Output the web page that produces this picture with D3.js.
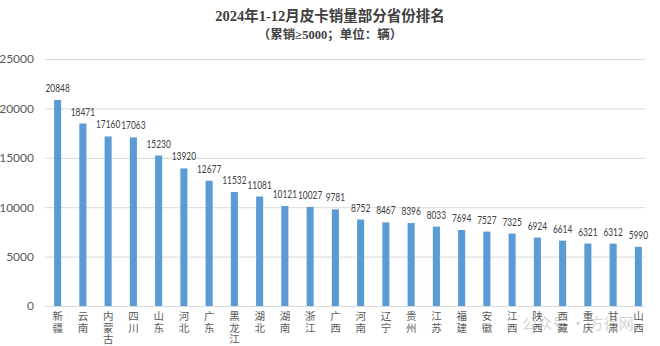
<!DOCTYPE html>
<html>
<head>
<meta charset="utf-8">
<script src="https://cdn.jsdelivr.net/npm/d3@7/dist/d3.min.js"></script>
<style>
  html, body { margin: 0; padding: 0; background: #fff; }
  svg { display: block; }
</style>
</head>
<body>
<svg id="chart" width="660" height="346"></svg>
<script>
// Pickup truck sales by province, Jan–Dec 2024 (cumulative ≥ 5000 units)
const provinces = ["新疆","云南","内蒙古","四川","山东","河北","广东","黑龙江","湖北","湖南","浙江","广西",
                   "河南","辽宁","贵州","江苏","福建","安徽","江西","陕西","西藏","重庆","甘肃","山西"];
const sales = [20848,18471,17160,17063,15230,13920,12677,11532,11081,10121,10027,9781,
               8752,8467,8396,8033,7694,7527,7325,6924,6614,6321,6312,5990];
const yTicks = [0,5000,10000,15000,20000,25000];
const titleText = "2024年1-12月皮卡销量部分省份排名";
const subtitleText = "（累销≥5000；单位：辆）";

const svg = d3.select("#chart");
const W = 660, H = 346;
const plot = { left: 45, right: 651, top: 59, bottom: 306 };

const x = d3.scaleBand().domain(provinces).range([plot.left, plot.right]).paddingInner(0.72).paddingOuter(0.36);
const y = d3.scaleLinear().domain([0, 25000]).range([plot.bottom, plot.top]);

const serif = "'Liberation Serif', 'DejaVu Serif', 'Noto Sans CJK SC', serif";
const numFont = "'Lato', 'Open Sans', sans-serif";

// titles
svg.append("text").attr("x", W / 2).attr("y", 21).attr("text-anchor", "middle")
  .attr("font-family", serif).attr("font-size", 14.5).attr("font-weight", "bold").attr("fill", "#404040")
  .text(titleText);
svg.append("text").attr("x", W / 2).attr("y", 39).attr("text-anchor", "middle")
  .attr("font-family", serif).attr("font-size", 12.5).attr("font-weight", "bold").attr("fill", "#404040")
  .text(subtitleText);

// gridlines + y axis labels
const yAxis = d3.axisLeft(y).tickValues(yTicks).tickFormat(d3.format("d"))
  .tickSize(-(plot.right - plot.left - 6)).tickPadding(11);
const gy = svg.append("g").attr("transform", `translate(${plot.left},0)`).call(yAxis);
gy.select(".domain").remove();
gy.selectAll(".tick line").attr("stroke", "#d9d9d9").attr("stroke-width", 1);
gy.selectAll(".tick text").attr("font-family", numFont).attr("font-size", 12).attr("fill", "#595959");

// bars
svg.append("g").selectAll("rect").data(sales).join("rect")
  .attr("x", (d, i) => x(provinces[i]))
  .attr("y", d => y(d))
  .attr("width", x.bandwidth())
  .attr("height", d => y(0) - y(d))
  .attr("fill", "#5b9bd5");

// value labels, condensed so neighbours do not collide
svg.append("g").selectAll("text").data(sales).join("text")
  .attr("x", (d, i) => x(provinces[i]) + x.bandwidth() / 2)
  .attr("y", d => y(d) - 8)
  .attr("text-anchor", "middle")
  .attr("font-family", numFont).attr("font-size", 10.5).attr("fill", "#404040")
  .attr("textLength", d => String(d).length * 4.85)
  .attr("lengthAdjust", "spacingAndGlyphs")
  .text(d => d);

// category axis: vertically stacked characters
const gx = svg.append("g");
gx.append("line").attr("x1", plot.left).attr("x2", plot.right - 6)
  .attr("y1", y(0) + 0.5).attr("y2", y(0) + 0.5).attr("stroke", "#d9d9d9");
provinces.forEach(p => {
  const t = gx.append("text")
    .attr("x", x(p) + x.bandwidth() / 2)
    .attr("text-anchor", "middle")
    .attr("font-family", "'Noto Sans CJK SC', sans-serif").attr("font-size", 10.5).attr("fill", "#595959");
  Array.from(p).forEach((ch, k) => {
    t.append("tspan").attr("x", x(p) + x.bandwidth() / 2).attr("y", 320 + k * 11.5).text(ch);
  });
});

// source watermark
svg.append("text").attr("x", 578).attr("y", 329).attr("text-anchor", "middle")
  .attr("font-family", "'Noto Sans CJK SC', sans-serif").attr("font-size", 15)
  .attr("fill", "#9a9a9a").attr("fill-opacity", 0.45)
  .text("公众号 · 方得网");
</script>
</body>
</html>
